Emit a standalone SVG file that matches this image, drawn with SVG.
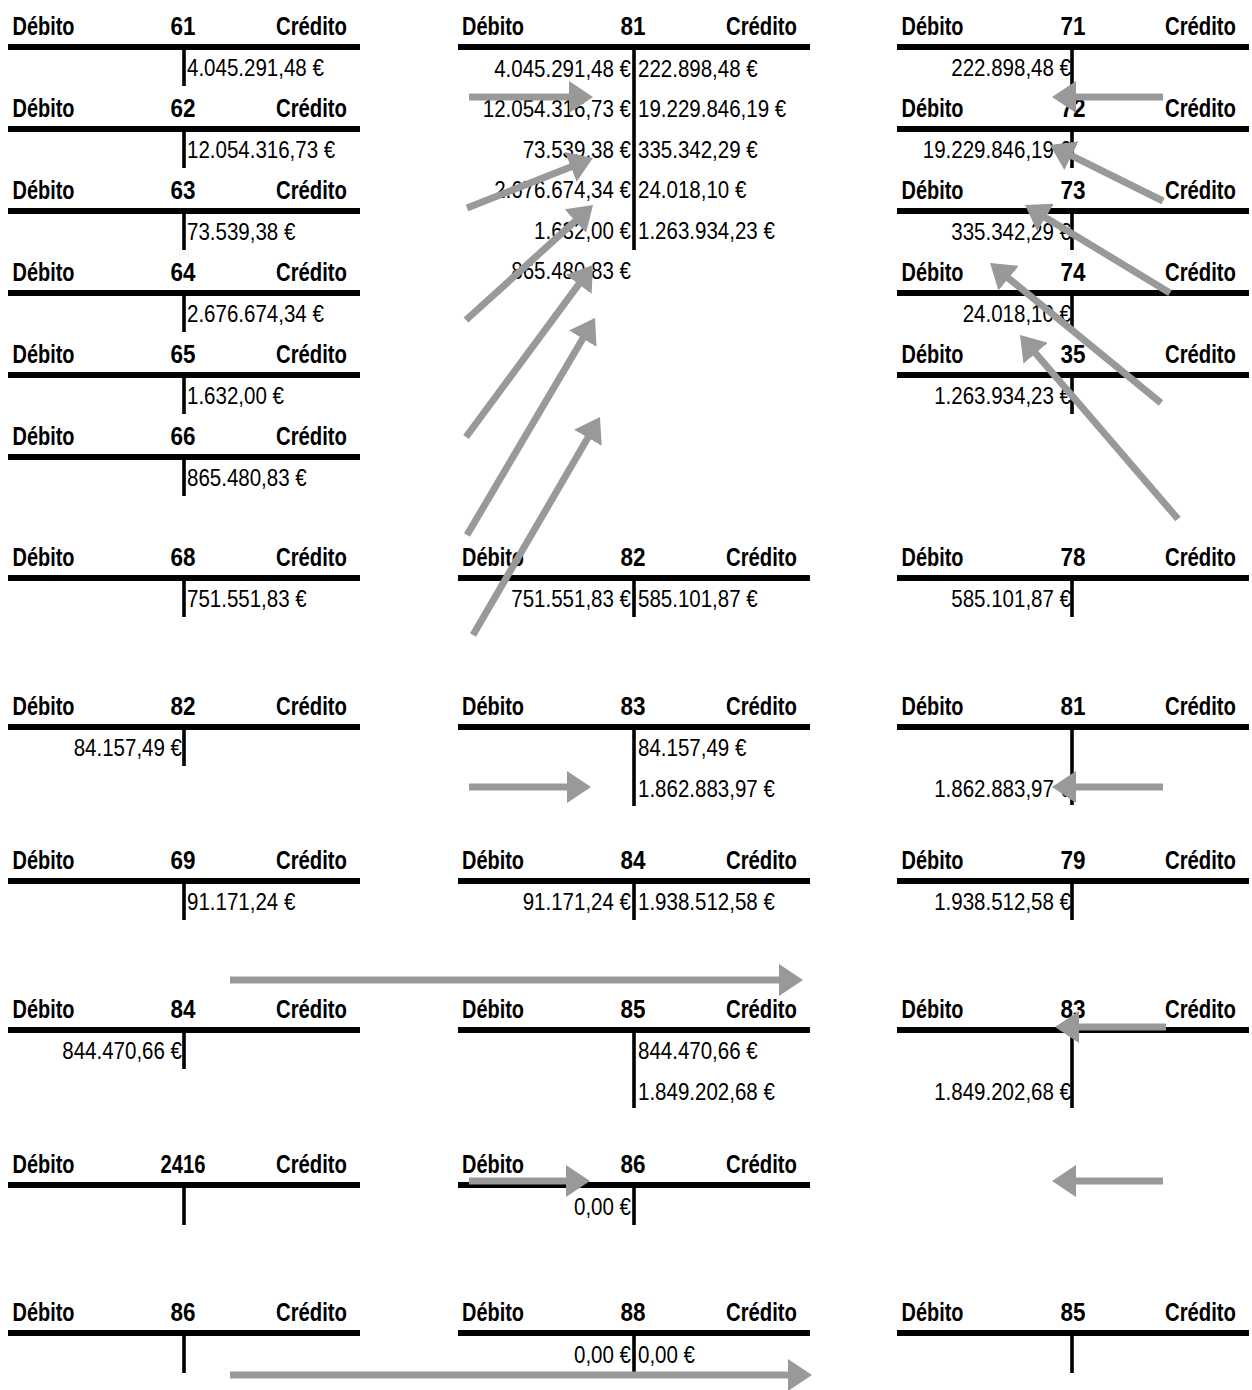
<svg xmlns="http://www.w3.org/2000/svg" width="1252" height="1390" viewBox="0 0 1252 1390">
<style>
.h{font-family:'Liberation Sans',Arial,sans-serif;font-weight:bold;font-size:25px;fill:#000}
.n{text-anchor:middle}
.r{text-anchor:end}
.v{font-family:'Liberation Sans',Arial,sans-serif;font-size:24px;fill:#000}
.bar{stroke:#000;stroke-width:6}
.vl{stroke:#000;stroke-width:3.6}
.ar{stroke:#999;stroke-width:7;fill:none;marker-end:url(#ah)}
</style>
<defs>
<marker id="ah" viewBox="0 0 24 32" markerWidth="24" markerHeight="32" markerUnits="userSpaceOnUse" refX="4" refY="16" orient="auto">
<path d="M0,0 L24,16 L0,32 z" fill="#999"/>
</marker>
</defs>
<rect width="1252" height="1390" fill="#fff"/>

<!-- Column A -->
<g id="acc-61">
<text class="h" x="12.5" y="35" textLength="62" lengthAdjust="spacingAndGlyphs">Débito</text><text class="h n" x="183" y="35" textLength="25" lengthAdjust="spacingAndGlyphs">61</text><text class="h r" x="347" y="35" textLength="71" lengthAdjust="spacingAndGlyphs">Crédito</text>
<text class="v" x="187" y="76" textLength="136.8" lengthAdjust="spacingAndGlyphs">4.045.291,48 €</text>
<line class="bar" x1="8" y1="47" x2="360" y2="47"/><line class="vl" x1="184" y1="47" x2="184" y2="86"/>
</g>
<g id="acc-62">
<text class="h" x="12.5" y="117" textLength="62" lengthAdjust="spacingAndGlyphs">Débito</text><text class="h n" x="183" y="117" textLength="25" lengthAdjust="spacingAndGlyphs">62</text><text class="h r" x="347" y="117" textLength="71" lengthAdjust="spacingAndGlyphs">Crédito</text>
<text class="v" x="187" y="158" textLength="148.2" lengthAdjust="spacingAndGlyphs">12.054.316,73 €</text>
<line class="bar" x1="8" y1="129" x2="360" y2="129"/><line class="vl" x1="184" y1="129" x2="184" y2="168"/>
</g>
<g id="acc-63">
<text class="h" x="12.5" y="199" textLength="62" lengthAdjust="spacingAndGlyphs">Débito</text><text class="h n" x="183" y="199" textLength="25" lengthAdjust="spacingAndGlyphs">63</text><text class="h r" x="347" y="199" textLength="71" lengthAdjust="spacingAndGlyphs">Crédito</text>
<text class="v" x="187" y="240" textLength="108.3" lengthAdjust="spacingAndGlyphs">73.539,38 €</text>
<line class="bar" x1="8" y1="211" x2="360" y2="211"/><line class="vl" x1="184" y1="211" x2="184" y2="250"/>
</g>
<g id="acc-64">
<text class="h" x="12.5" y="281" textLength="62" lengthAdjust="spacingAndGlyphs">Débito</text><text class="h n" x="183" y="281" textLength="25" lengthAdjust="spacingAndGlyphs">64</text><text class="h r" x="347" y="281" textLength="71" lengthAdjust="spacingAndGlyphs">Crédito</text>
<text class="v" x="187" y="322" textLength="136.8" lengthAdjust="spacingAndGlyphs">2.676.674,34 €</text>
<line class="bar" x1="8" y1="293" x2="360" y2="293"/><line class="vl" x1="184" y1="293" x2="184" y2="332"/>
</g>
<g id="acc-65">
<text class="h" x="12.5" y="363" textLength="62" lengthAdjust="spacingAndGlyphs">Débito</text><text class="h n" x="183" y="363" textLength="25" lengthAdjust="spacingAndGlyphs">65</text><text class="h r" x="347" y="363" textLength="71" lengthAdjust="spacingAndGlyphs">Crédito</text>
<text class="v" x="187" y="404" textLength="96.9" lengthAdjust="spacingAndGlyphs">1.632,00 €</text>
<line class="bar" x1="8" y1="375" x2="360" y2="375"/><line class="vl" x1="184" y1="375" x2="184" y2="414"/>
</g>
<g id="acc-66">
<text class="h" x="12.5" y="445" textLength="62" lengthAdjust="spacingAndGlyphs">Débito</text><text class="h n" x="183" y="445" textLength="25" lengthAdjust="spacingAndGlyphs">66</text><text class="h r" x="347" y="445" textLength="71" lengthAdjust="spacingAndGlyphs">Crédito</text>
<text class="v" x="187" y="486" textLength="119.7" lengthAdjust="spacingAndGlyphs">865.480,83 €</text>
<line class="bar" x1="8" y1="457" x2="360" y2="457"/><line class="vl" x1="184" y1="457" x2="184" y2="496"/>
</g>
<g id="acc-68">
<text class="h" x="12.5" y="566" textLength="62" lengthAdjust="spacingAndGlyphs">Débito</text><text class="h n" x="183" y="566" textLength="25" lengthAdjust="spacingAndGlyphs">68</text><text class="h r" x="347" y="566" textLength="71" lengthAdjust="spacingAndGlyphs">Crédito</text>
<text class="v" x="187" y="607" textLength="119.7" lengthAdjust="spacingAndGlyphs">751.551,83 €</text>
<line class="bar" x1="8" y1="578" x2="360" y2="578"/><line class="vl" x1="184" y1="578" x2="184" y2="617"/>
</g>
<g id="acc-82a">
<text class="h" x="12.5" y="715" textLength="62" lengthAdjust="spacingAndGlyphs">Débito</text><text class="h n" x="183" y="715" textLength="25" lengthAdjust="spacingAndGlyphs">82</text><text class="h r" x="347" y="715" textLength="71" lengthAdjust="spacingAndGlyphs">Crédito</text>
<text class="v r" x="182" y="756" textLength="108.3" lengthAdjust="spacingAndGlyphs">84.157,49 €</text>
<line class="bar" x1="8" y1="727" x2="360" y2="727"/><line class="vl" x1="184" y1="727" x2="184" y2="766"/>
</g>
<g id="acc-69">
<text class="h" x="12.5" y="869" textLength="62" lengthAdjust="spacingAndGlyphs">Débito</text><text class="h n" x="183" y="869" textLength="25" lengthAdjust="spacingAndGlyphs">69</text><text class="h r" x="347" y="869" textLength="71" lengthAdjust="spacingAndGlyphs">Crédito</text>
<text class="v" x="187" y="910" textLength="108.3" lengthAdjust="spacingAndGlyphs">91.171,24 €</text>
<line class="bar" x1="8" y1="881" x2="360" y2="881"/><line class="vl" x1="184" y1="881" x2="184" y2="920"/>
</g>
<g id="acc-84a">
<text class="h" x="12.5" y="1018" textLength="62" lengthAdjust="spacingAndGlyphs">Débito</text><text class="h n" x="183" y="1018" textLength="25" lengthAdjust="spacingAndGlyphs">84</text><text class="h r" x="347" y="1018" textLength="71" lengthAdjust="spacingAndGlyphs">Crédito</text>
<text class="v r" x="182" y="1059" textLength="119.7" lengthAdjust="spacingAndGlyphs">844.470,66 €</text>
<line class="bar" x1="8" y1="1030" x2="360" y2="1030"/><line class="vl" x1="184" y1="1030" x2="184" y2="1069"/>
</g>
<g id="acc-2416">
<text class="h" x="12.5" y="1173" textLength="62" lengthAdjust="spacingAndGlyphs">Débito</text><text class="h n" x="183" y="1173" textLength="45" lengthAdjust="spacingAndGlyphs">2416</text><text class="h r" x="347" y="1173" textLength="71" lengthAdjust="spacingAndGlyphs">Crédito</text>
<line class="bar" x1="8" y1="1185" x2="360" y2="1185"/><line class="vl" x1="184" y1="1185" x2="184" y2="1225"/>
</g>
<g id="acc-86a">
<text class="h" x="12.5" y="1321" textLength="62" lengthAdjust="spacingAndGlyphs">Débito</text><text class="h n" x="183" y="1321" textLength="25" lengthAdjust="spacingAndGlyphs">86</text><text class="h r" x="347" y="1321" textLength="71" lengthAdjust="spacingAndGlyphs">Crédito</text>
<line class="bar" x1="8" y1="1333" x2="360" y2="1333"/><line class="vl" x1="184" y1="1333" x2="184" y2="1373"/>
</g>

<!-- Column B -->
<g id="acc-81">
<text class="h" x="462" y="35" textLength="62" lengthAdjust="spacingAndGlyphs">Débito</text><text class="h n" x="633" y="35" textLength="25" lengthAdjust="spacingAndGlyphs">81</text><text class="h r" x="797" y="35" textLength="71" lengthAdjust="spacingAndGlyphs">Crédito</text>
<text class="v r" x="631" y="76.5" textLength="136.8" lengthAdjust="spacingAndGlyphs">4.045.291,48 €</text>
<text class="v r" x="631" y="117" textLength="148.2" lengthAdjust="spacingAndGlyphs">12.054.316,73 €</text>
<text class="v r" x="631" y="157.5" textLength="108.3" lengthAdjust="spacingAndGlyphs">73.539,38 €</text>
<text class="v r" x="631" y="198" textLength="136.8" lengthAdjust="spacingAndGlyphs">2.676.674,34 €</text>
<text class="v r" x="631" y="238.5" textLength="96.9" lengthAdjust="spacingAndGlyphs">1.632,00 €</text>
<text class="v r" x="631" y="279" textLength="119.7" lengthAdjust="spacingAndGlyphs">865.480,83 €</text>
<text class="v" x="638" y="76.5" textLength="119.7" lengthAdjust="spacingAndGlyphs">222.898,48 €</text>
<text class="v" x="638" y="117" textLength="148.2" lengthAdjust="spacingAndGlyphs">19.229.846,19 €</text>
<text class="v" x="638" y="157.5" textLength="119.7" lengthAdjust="spacingAndGlyphs">335.342,29 €</text>
<text class="v" x="638" y="198" textLength="108.3" lengthAdjust="spacingAndGlyphs">24.018,10 €</text>
<text class="v" x="638" y="238.5" textLength="136.8" lengthAdjust="spacingAndGlyphs">1.263.934,23 €</text>
<line class="bar" x1="458" y1="47" x2="810" y2="47"/><line class="vl" x1="634" y1="47" x2="634" y2="250"/>
</g>
<g id="acc-82b">
<text class="h" x="462" y="566" textLength="62" lengthAdjust="spacingAndGlyphs">Débito</text><text class="h n" x="633" y="566" textLength="25" lengthAdjust="spacingAndGlyphs">82</text><text class="h r" x="797" y="566" textLength="71" lengthAdjust="spacingAndGlyphs">Crédito</text>
<text class="v r" x="631" y="607" textLength="119.7" lengthAdjust="spacingAndGlyphs">751.551,83 €</text>
<text class="v" x="638" y="607" textLength="119.7" lengthAdjust="spacingAndGlyphs">585.101,87 €</text>
<line class="bar" x1="458" y1="578" x2="810" y2="578"/><line class="vl" x1="634" y1="578" x2="634" y2="617"/>
</g>
<g id="acc-83b">
<text class="h" x="462" y="715" textLength="62" lengthAdjust="spacingAndGlyphs">Débito</text><text class="h n" x="633" y="715" textLength="25" lengthAdjust="spacingAndGlyphs">83</text><text class="h r" x="797" y="715" textLength="71" lengthAdjust="spacingAndGlyphs">Crédito</text>
<text class="v" x="638" y="756" textLength="108.3" lengthAdjust="spacingAndGlyphs">84.157,49 €</text>
<text class="v" x="638" y="797" textLength="136.8" lengthAdjust="spacingAndGlyphs">1.862.883,97 €</text>
<line class="bar" x1="458" y1="727" x2="810" y2="727"/><line class="vl" x1="634" y1="727" x2="634" y2="806"/>
</g>
<g id="acc-84b">
<text class="h" x="462" y="869" textLength="62" lengthAdjust="spacingAndGlyphs">Débito</text><text class="h n" x="633" y="869" textLength="25" lengthAdjust="spacingAndGlyphs">84</text><text class="h r" x="797" y="869" textLength="71" lengthAdjust="spacingAndGlyphs">Crédito</text>
<text class="v r" x="631" y="910" textLength="108.3" lengthAdjust="spacingAndGlyphs">91.171,24 €</text>
<text class="v" x="638" y="910" textLength="136.8" lengthAdjust="spacingAndGlyphs">1.938.512,58 €</text>
<line class="bar" x1="458" y1="881" x2="810" y2="881"/><line class="vl" x1="634" y1="881" x2="634" y2="920"/>
</g>
<g id="acc-85b">
<text class="h" x="462" y="1018" textLength="62" lengthAdjust="spacingAndGlyphs">Débito</text><text class="h n" x="633" y="1018" textLength="25" lengthAdjust="spacingAndGlyphs">85</text><text class="h r" x="797" y="1018" textLength="71" lengthAdjust="spacingAndGlyphs">Crédito</text>
<text class="v" x="638" y="1059" textLength="119.7" lengthAdjust="spacingAndGlyphs">844.470,66 €</text>
<text class="v" x="638" y="1100" textLength="136.8" lengthAdjust="spacingAndGlyphs">1.849.202,68 €</text>
<line class="bar" x1="458" y1="1030" x2="810" y2="1030"/><line class="vl" x1="634" y1="1030" x2="634" y2="1108"/>
</g>
<g id="acc-86b">
<text class="h" x="462" y="1173" textLength="62" lengthAdjust="spacingAndGlyphs">Débito</text><text class="h n" x="633" y="1173" textLength="25" lengthAdjust="spacingAndGlyphs">86</text><text class="h r" x="797" y="1173" textLength="71" lengthAdjust="spacingAndGlyphs">Crédito</text>
<text class="v r" x="631" y="1215" textLength="57" lengthAdjust="spacingAndGlyphs">0,00 €</text>
<line class="bar" x1="458" y1="1185" x2="810" y2="1185"/><line class="vl" x1="634" y1="1185" x2="634" y2="1225"/>
</g>
<g id="acc-88">
<text class="h" x="462" y="1321" textLength="62" lengthAdjust="spacingAndGlyphs">Débito</text><text class="h n" x="633" y="1321" textLength="25" lengthAdjust="spacingAndGlyphs">88</text><text class="h r" x="797" y="1321" textLength="71" lengthAdjust="spacingAndGlyphs">Crédito</text>
<text class="v r" x="631" y="1363" textLength="57" lengthAdjust="spacingAndGlyphs">0,00 €</text>
<text class="v" x="638" y="1363" textLength="57" lengthAdjust="spacingAndGlyphs">0,00 €</text>
<line class="bar" x1="458" y1="1333" x2="810" y2="1333"/><line class="vl" x1="634" y1="1333" x2="634" y2="1373"/>
</g>

<!-- Column C -->
<g id="acc-71">
<text class="h" x="901.5" y="35" textLength="62" lengthAdjust="spacingAndGlyphs">Débito</text><text class="h n" x="1073" y="35" textLength="25" lengthAdjust="spacingAndGlyphs">71</text><text class="h r" x="1236" y="35" textLength="71" lengthAdjust="spacingAndGlyphs">Crédito</text>
<text class="v r" x="1071" y="76" textLength="119.7" lengthAdjust="spacingAndGlyphs">222.898,48 €</text>
<line class="bar" x1="897" y1="47" x2="1249" y2="47"/><line class="vl" x1="1072" y1="47" x2="1072" y2="86"/>
</g>
<g id="acc-72">
<text class="h" x="901.5" y="117" textLength="62" lengthAdjust="spacingAndGlyphs">Débito</text><text class="h n" x="1073" y="117" textLength="25" lengthAdjust="spacingAndGlyphs">72</text><text class="h r" x="1236" y="117" textLength="71" lengthAdjust="spacingAndGlyphs">Crédito</text>
<text class="v r" x="1071" y="158" textLength="148.2" lengthAdjust="spacingAndGlyphs">19.229.846,19 €</text>
<line class="bar" x1="897" y1="129" x2="1249" y2="129"/><line class="vl" x1="1072" y1="129" x2="1072" y2="168"/>
</g>
<g id="acc-73">
<text class="h" x="901.5" y="199" textLength="62" lengthAdjust="spacingAndGlyphs">Débito</text><text class="h n" x="1073" y="199" textLength="25" lengthAdjust="spacingAndGlyphs">73</text><text class="h r" x="1236" y="199" textLength="71" lengthAdjust="spacingAndGlyphs">Crédito</text>
<text class="v r" x="1071" y="240" textLength="119.7" lengthAdjust="spacingAndGlyphs">335.342,29 €</text>
<line class="bar" x1="897" y1="211" x2="1249" y2="211"/><line class="vl" x1="1072" y1="211" x2="1072" y2="250"/>
</g>
<g id="acc-74">
<text class="h" x="901.5" y="281" textLength="62" lengthAdjust="spacingAndGlyphs">Débito</text><text class="h n" x="1073" y="281" textLength="25" lengthAdjust="spacingAndGlyphs">74</text><text class="h r" x="1236" y="281" textLength="71" lengthAdjust="spacingAndGlyphs">Crédito</text>
<text class="v r" x="1071" y="322" textLength="108.3" lengthAdjust="spacingAndGlyphs">24.018,10 €</text>
<line class="bar" x1="897" y1="293" x2="1249" y2="293"/><line class="vl" x1="1072" y1="293" x2="1072" y2="332"/>
</g>
<g id="acc-35">
<text class="h" x="901.5" y="363" textLength="62" lengthAdjust="spacingAndGlyphs">Débito</text><text class="h n" x="1073" y="363" textLength="25" lengthAdjust="spacingAndGlyphs">35</text><text class="h r" x="1236" y="363" textLength="71" lengthAdjust="spacingAndGlyphs">Crédito</text>
<text class="v r" x="1071" y="404" textLength="136.8" lengthAdjust="spacingAndGlyphs">1.263.934,23 €</text>
<line class="bar" x1="897" y1="375" x2="1249" y2="375"/><line class="vl" x1="1072" y1="375" x2="1072" y2="414"/>
</g>
<g id="acc-78">
<text class="h" x="901.5" y="566" textLength="62" lengthAdjust="spacingAndGlyphs">Débito</text><text class="h n" x="1073" y="566" textLength="25" lengthAdjust="spacingAndGlyphs">78</text><text class="h r" x="1236" y="566" textLength="71" lengthAdjust="spacingAndGlyphs">Crédito</text>
<text class="v r" x="1071" y="607" textLength="119.7" lengthAdjust="spacingAndGlyphs">585.101,87 €</text>
<line class="bar" x1="897" y1="578" x2="1249" y2="578"/><line class="vl" x1="1072" y1="578" x2="1072" y2="617"/>
</g>
<g id="acc-81c">
<text class="h" x="901.5" y="715" textLength="62" lengthAdjust="spacingAndGlyphs">Débito</text><text class="h n" x="1073" y="715" textLength="25" lengthAdjust="spacingAndGlyphs">81</text><text class="h r" x="1236" y="715" textLength="71" lengthAdjust="spacingAndGlyphs">Crédito</text>
<text class="v r" x="1071" y="797" textLength="136.8" lengthAdjust="spacingAndGlyphs">1.862.883,97 €</text>
<line class="bar" x1="897" y1="727" x2="1249" y2="727"/><line class="vl" x1="1072" y1="727" x2="1072" y2="805"/>
</g>
<g id="acc-79">
<text class="h" x="901.5" y="869" textLength="62" lengthAdjust="spacingAndGlyphs">Débito</text><text class="h n" x="1073" y="869" textLength="25" lengthAdjust="spacingAndGlyphs">79</text><text class="h r" x="1236" y="869" textLength="71" lengthAdjust="spacingAndGlyphs">Crédito</text>
<text class="v r" x="1071" y="910" textLength="136.8" lengthAdjust="spacingAndGlyphs">1.938.512,58 €</text>
<line class="bar" x1="897" y1="881" x2="1249" y2="881"/><line class="vl" x1="1072" y1="881" x2="1072" y2="920"/>
</g>
<g id="acc-83c">
<text class="h" x="901.5" y="1018" textLength="62" lengthAdjust="spacingAndGlyphs">Débito</text><text class="h n" x="1073" y="1018" textLength="25" lengthAdjust="spacingAndGlyphs">83</text><text class="h r" x="1236" y="1018" textLength="71" lengthAdjust="spacingAndGlyphs">Crédito</text>
<text class="v r" x="1071" y="1100" textLength="136.8" lengthAdjust="spacingAndGlyphs">1.849.202,68 €</text>
<line class="bar" x1="897" y1="1030" x2="1249" y2="1030"/><line class="vl" x1="1072" y1="1030" x2="1072" y2="1108"/>
</g>
<g id="acc-85c">
<text class="h" x="901.5" y="1321" textLength="62" lengthAdjust="spacingAndGlyphs">Débito</text><text class="h n" x="1073" y="1321" textLength="25" lengthAdjust="spacingAndGlyphs">85</text><text class="h r" x="1236" y="1321" textLength="71" lengthAdjust="spacingAndGlyphs">Crédito</text>
<line class="bar" x1="897" y1="1333" x2="1249" y2="1333"/><line class="vl" x1="1072" y1="1333" x2="1072" y2="1373"/>
</g>

<!-- Connectors -->
<g id="connectors">
<line class="ar" x1="469" y1="97" x2="573" y2="97"/>
<line class="ar" x1="467" y1="208" x2="574.4" y2="165.4"/>
<line class="ar" x1="466" y1="320" x2="578.2" y2="218.4"/>
<line class="ar" x1="466" y1="437" x2="581.1" y2="281.1"/>
<line class="ar" x1="467" y1="535" x2="584.8" y2="335.2"/>
<line class="ar" x1="473" y1="635" x2="589.9" y2="434.3"/>
<line class="ar" x1="1163" y1="97" x2="1072" y2="97"/>
<line class="ar" x1="1163" y1="201" x2="1067.9" y2="153.9"/>
<line class="ar" x1="1170" y1="293" x2="1042.1" y2="215.4"/>
<line class="ar" x1="1161" y1="403" x2="1005.5" y2="275.7"/>
<line class="ar" x1="1178" y1="519" x2="1033" y2="350.2"/>
<line class="ar" x1="469" y1="787" x2="571" y2="787"/>
<line class="ar" x1="1163" y1="787" x2="1072" y2="787"/>
<line class="ar" x1="230" y1="980" x2="783" y2="980"/>
<line class="ar" x1="1166" y1="1027" x2="1075" y2="1027"/>
<line class="ar" x1="469" y1="1181" x2="570" y2="1181"/>
<line class="ar" x1="1163" y1="1181" x2="1072" y2="1181"/>
<line class="ar" x1="230" y1="1375" x2="792" y2="1375"/>
</g>
</svg>
